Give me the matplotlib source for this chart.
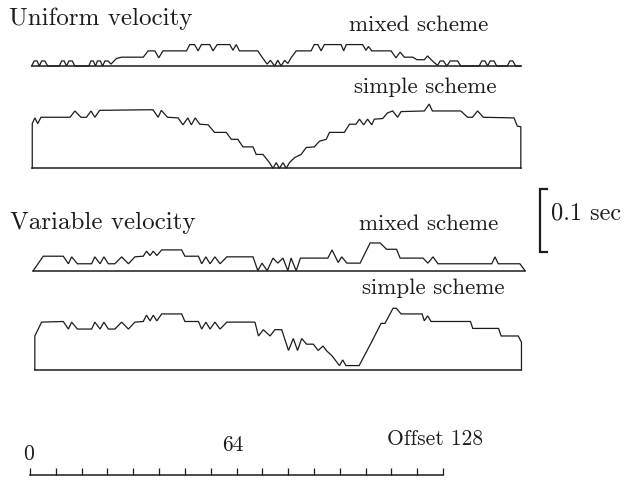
import matplotlib
matplotlib.use("Agg")
import matplotlib.pyplot as plt
import numpy as np

# ---------------- data (offset, time delay in ms) ----------------
uni_mixed_x = [0.5, 1.3, 2.2, 2.9, 3.6, 4.6, 5.5, 9.1, 9.8, 10.6, 11.3, 12.1, 13.1, 13.9,
               18.2, 18.9, 19.6, 20.3, 20.9, 21.8, 22.5, 23.2, 24.2, 25.1, 26.8, 28.4,
               35.1, 36.6, 38.7, 39.9, 41.2, 48.5, 49.5, 51.0, 52.1, 53.1, 55.7, 56.7, 58.0,
               61.9, 62.9, 63.9, 64.9, 70.6, 71.9, 73.5, 74.5, 75.8, 76.8, 77.8, 78.9, 79.9,
               80.9, 82.5, 87.1, 88.1, 89.2, 90.2, 91.2, 96.4, 97.2, 98.0, 103.1, 104.1, 104.9,
               105.9, 111.9, 113.4, 114.7, 116.0, 118.6, 119.9, 122.2, 123.2, 124.5, 126.3,
               127.1, 128.1, 129.2, 130.2, 132.5, 133.5, 139.2, 140.0, 141.0, 141.8, 142.6,
               143.8, 144.6, 147.9, 148.7, 149.6, 150.5, 152.1]
uni_mixed_t = [0, 8, 8, 0, 8, 8, 0, 0, 8, 8, 0, 8, 8, 0,
               0, 8, 8, 0, 8, 8, 0, 8, 8, 3, 12, 14,
               14, 24, 24, 13, 24, 24, 34, 34, 24, 34, 34, 24, 34,
               34, 25, 34, 24, 24, 14, 3, 9, 0, 9, 0, 9, 4, 13, 24,
               24, 34, 34, 24, 34, 34, 24, 34, 34, 25, 31, 24,
               24, 13, 22, 14, 14, 10, 10, 16, 9, 1,
               8, 8, 0, 8, 8, 0, 0, 8, 8, 0, 8, 8, 0, 0, 8, 8, 0, 0]

uni_simple_x = [0.7, 0.7, 1.5, 2.4, 3.4, 12.4, 13.9, 15.8, 17.5, 18.9, 20.1, 21.6,
                38.1, 39.7, 40.7, 42.6, 45.9, 47.4, 48.9, 50.0, 51.2, 52.6,
                55.2, 57.2, 60.8, 62.4, 64.4, 66.0, 69.1, 70.1, 72.2,
                74.2, 75.3, 76.3, 77.3, 78.4, 79.4, 80.4,
                82.0, 84.0, 85.6, 88.1, 89.7, 91.8, 92.8, 97.4,
                99.0, 101.0, 102.1, 103.4, 104.6, 105.9, 106.7,
                109.3, 110.8, 112.4, 113.9, 115.0, 122.2, 123.7, 124.7,
                133.5, 135.6, 137.1, 138.7, 140.5, 150.0, 151.0, 152.1, 152.1]
uni_simple_t = [0, 71, 80, 71, 81, 81, 91, 81, 81, 91, 81, 92,
                93, 81, 92, 81, 80, 69, 80, 69, 80, 70,
                69, 57, 57, 46, 46, 34, 34, 22, 22,
                9, 0, 9, 0, 9, 0, 9,
                17, 22, 33, 34, 43, 46, 57, 57,
                70, 70, 78, 69, 78, 69, 78,
                79, 88, 91, 81, 90, 91, 102, 91,
                91, 81, 81, 91, 81, 80, 67, 66, 0]

var_mixed_x = [1.0, 4.1, 10.3, 11.9, 12.9, 14.7, 19.1, 20.1, 21.7, 22.9, 24.3,
               26.3, 28.4, 30.5, 32.5, 35.1, 36.1, 37.2, 38.2, 39.3, 40.8,
               47.0, 48.0, 52.2, 53.2, 54.5, 55.8, 57.3, 58.9, 61.0,
               69.1, 70.6, 71.9, 73.5, 75.3, 76.8, 78.4, 79.9, 80.9, 82.5, 83.8,
               92.3, 93.6, 95.5, 96.6, 98.2, 102.3, 105.4, 108.5, 110.5, 113.6, 114.7,
               121.8, 123.3, 124.9, 126.4, 143.1, 144.1, 145.1, 151.8, 153.4]
var_mixed_t = [0, 23, 23, 11, 22, 11, 11, 22, 11, 22, 11,
               11, 22, 11, 22, 23, 31, 24, 31, 24, 33,
               33, 23, 23, 11, 22, 11, 22, 11, 22,
               22, 0, 12, 0, 20, 12, 20, 0, 20, 0, 20,
               20, 33, 13, 22, 12, 12, 44, 44, 34, 34, 20,
               20, 12, 22, 11, 11, 22, 11, 11, 0]

var_simple_x = [1.5, 1.5, 3.6, 10.3, 11.9, 12.9, 14.7, 19.1, 20.1, 21.7, 22.9, 24.3,
                26.3, 28.4, 30.5, 32.5, 35.1, 36.1, 37.2, 38.2, 39.3, 40.8,
                47.0, 48.0, 52.2, 53.2, 54.5, 55.8, 57.3, 58.9, 61.0,
                69.7, 70.8, 72.3, 74.4, 75.9, 78.0, 80.1, 81.6, 82.9, 84.2, 85.7, 87.8, 89.3,
                90.8, 92.0, 93.5, 95.9, 96.9, 97.9, 102.0, 105.5, 108.8, 110.0, 112.5, 113.5,
                115.0, 121.5, 122.2, 123.2, 124.3, 136.5, 137.2, 145.2, 146.0, 151.3, 152.3, 152.3]
var_simple_t = [0, 54, 76, 77, 65, 76, 65, 65, 76, 65, 76, 65,
                65, 76, 65, 76, 77, 87, 78, 87, 78, 89,
                89, 77, 77, 65, 76, 65, 76, 65, 76,
                76, 54, 64, 54, 64, 64, 31, 50, 31, 50, 41, 41, 31,
                38, 30, 23, 7, 16, 7, 7, 41, 74, 74, 98, 98,
                89, 89, 78, 86, 77, 77, 66, 66, 54, 54, 44, 0]

traces = [
    (uni_mixed_x, uni_mixed_t),
    (uni_simple_x, uni_simple_t),
    (var_mixed_x, var_mixed_t),
    (var_simple_x, var_simple_t),
]
for xs, ts in traces:
    assert len(xs) == len(ts), (len(xs), len(ts))

offset_ticks = list(range(0, 129, 8))
offset_labels = {0: "0", 64: "64", 128: "Offset 128"}
scale_bar_ms = 100
scale_label = "0.1 sec"

# ---------------- layout ----------------
W, H, DPI = 626, 481, 100
px_per_off = 3.227
px_per_ms = 0.63
x0_px = 30

fig = plt.figure(figsize=(W / DPI, H / DPI), dpi=DPI)
ax = fig.add_axes([0, 0, 1, 1])
ax.set_xlim(-x0_px / px_per_off, (W - x0_px) / px_per_off)
ax.set_ylim(0, H / px_per_ms)
ax.axis("off")

def ypx(p):
    return (H - p) / px_per_ms

ink = "#1c1c1c"
baselines = [ypx(67), ypx(169.3), ypx(271.7), ypx(371)]

for (xs, ts), b in zip(traces, baselines):
    xs = np.asarray(xs, float)
    ts = np.asarray(ts, float)
    ax.plot(xs, ts + b, color=ink, lw=0.9, solid_joinstyle="miter")
    ax.plot([xs.min(), xs.max()], [b, b], color=ink, lw=1.1)

font = "cmr10"
fs_head = 18
fs_lab = 16.5
ax.text(-6.6, ypx(25), "Uniform velocity", family=font, fontsize=fs_head, ha="left", va="baseline", color=ink)
ax.text(120.4, ypx(31), "mixed scheme", family=font, fontsize=fs_lab, ha="center", va="baseline", color=ink)
ax.text(122.4, ypx(93), "simple scheme", family=font, fontsize=fs_lab, ha="center", va="baseline", color=ink)
ax.text(-6.3, ypx(229), "Variable velocity", family=font, fontsize=fs_head, ha="left", va="baseline", color=ink)
ax.text(123.6, ypx(230), "mixed scheme", family=font, fontsize=fs_lab, ha="center", va="baseline", color=ink)
ax.text(125.0, ypx(293.5), "simple scheme", family=font, fontsize=fs_lab, ha="center", va="baseline", color=ink)

# scale bar
bar_x = 158.0
bar_top = ypx(190)
ax.plot([bar_x + 2.3, bar_x, bar_x, bar_x + 2.3],
        [bar_top, bar_top, bar_top - scale_bar_ms, bar_top - scale_bar_ms],
        color=ink, lw=1.6, solid_joinstyle="miter")
ax.text(161.6, ypx(219.5), scale_label, family=font, fontsize=17.5, ha="left", va="baseline", color=ink)

# offset axis
axis_y = ypx(476)
tick_top = ypx(468.5)
ax.plot([offset_ticks[0], offset_ticks[-1]], [axis_y, axis_y], color=ink, lw=1.1)
ax.vlines(offset_ticks, axis_y, tick_top, color=ink, lw=0.9)
ax.text(-0.3, ypx(460), offset_labels[0], family=font, fontsize=15.5, ha="center", va="baseline", color=ink)
ax.text(63.0, ypx(451), offset_labels[64], family=font, fontsize=15.5, ha="center", va="baseline", color=ink)
ax.text(140.4, ypx(445), offset_labels[128], family=font, fontsize=15.5, ha="right", va="baseline", color=ink)

fig.savefig("out.png", dpi=DPI)
